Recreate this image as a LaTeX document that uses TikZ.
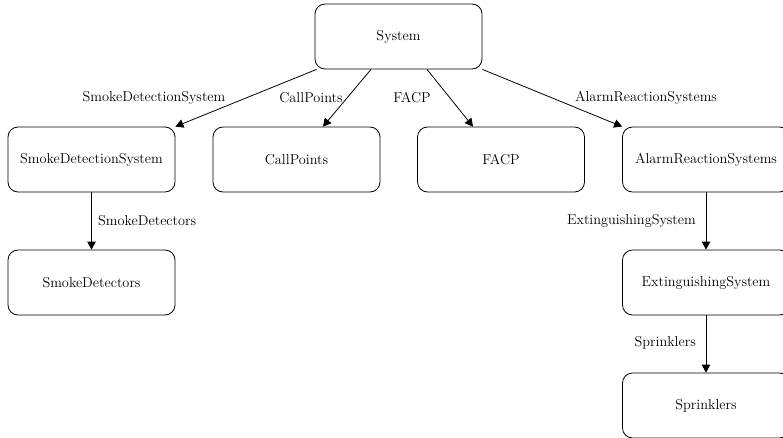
\documentclass[tikz,border=0pt]{standalone}
\usetikzlibrary{arrows.meta}
\begin{document}
\begin{tikzpicture}[x=1pt,y=-1pt,
    every node/.style={font=\fontsize{14.3}{16}\selectfont},
    box/.style={draw, line width=0.8pt, rounded corners=10pt,
      minimum width=167pt, minimum height=65pt, inner sep=0pt},
    link/.style={line width=0.8pt, -{Triangle[length=8pt,width=8.5pt]}},
    tag/.style={inner sep=0pt}]
  \useasboundingbox (0,0) rectangle (783,438);

  % boxes
  \node[box] (sys)  at (398.5,36.5)  {System};
  \node[box] (sds)  at (91.5,159.5)  {SmokeDetectionSystem};
  \node[box] (cp)   at (296.5,159.5) {CallPoints};
  \node[box] (facp) at (501,159.5)   {FACP};
  \node[box] (ars)  at (706,159.5)   {AlarmReactionSystems};
  \node[box] (sd)   at (91.5,282.5)  {SmokeDetectors};
  \node[box] (ext)  at (706,282.5)   {ExtinguishingSystem};
  \node[box] (spr)  at (706,405.5)   {Sprinklers};

  % connectors
  \draw[link] ([xshift=2pt]sys.south west) -- (sds.north east);
  \draw[link] ([xshift=-27.5pt]sys.south) -- ([xshift=26.5pt]cp.north);
  \draw[link] ([xshift=28.5pt]sys.south) -- ([xshift=-28pt]facp.north);
  \draw[link] (sys.south east) -- (ars.north west);
  \draw[link] (sds.south) -- (sd.north);
  \draw[link] (ars.south) -- (ext.north);
  \draw[link] (ext.south) -- (spr.north);

  % connector labels
  \node[tag] (l1) at (154,98)  {SmokeDetectionSystem};
  \node[tag] (l2) at (311,98)  {CallPoints};
  \node[tag] (l3) at (412,98)  {FACP};
  \node[tag] (l4) at (646,98)  {AlarmReactionSystems};
  \node[tag, anchor=west] (l5) at (98,221)  {SmokeDetectors};
  \node[tag, anchor=east] (l6) at (696,221) {ExtinguishingSystem};
  \node[tag, anchor=east] (l7) at (696,343) {Sprinklers};
\end{tikzpicture}
\end{document}
